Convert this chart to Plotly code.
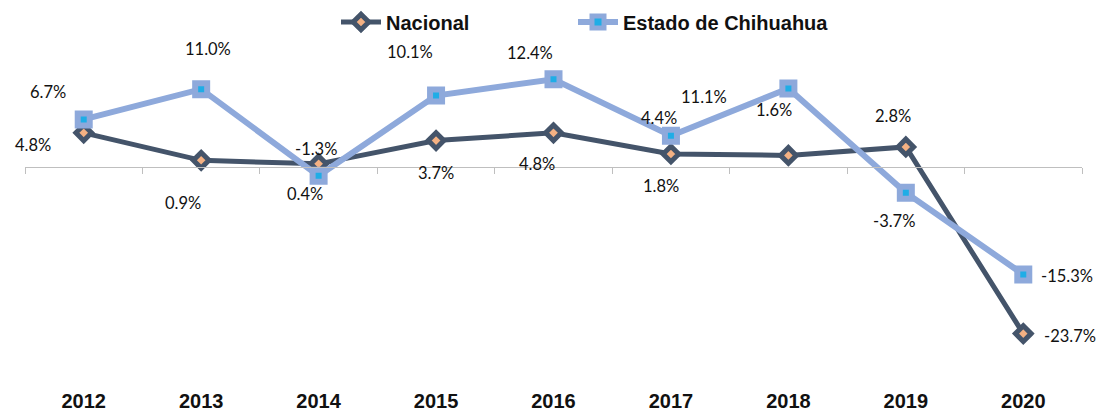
import plotly.graph_objects as go

# Annual growth rates (%)
years = ["2012", "2013", "2014", "2015", "2016", "2017", "2018", "2019", "2020"]
nacional = [4.8, 0.9, 0.4, 3.7, 4.8, 1.8, 1.6, 2.8, -23.7]
chihuahua = [6.7, 11.0, -1.3, 10.1, 12.4, 4.4, 11.1, -3.7, -15.3]

# Data-label placement (pixel offsets from each point: dx right, dy down)
nac_offsets = [(-51, 12), (-18, 43), (-14, 30), (0, 32), (-17, 31),
               (-10, 32), (-14, -45), (-13, -31), (47, 2)]
chi_offsets = [(-36, -27), (7, -40), (-3, -27), (-26, -44), (-24, -26),
               (-12, -18), (-84, 9), (-12, 28), (44, 2)]

NAC_COLOR = "#44546A"
NAC_FILL = "#F4B183"
CHI_COLOR = "#8EA9DB"
CHI_FILL = "#1FADE6"

x_idx = list(range(len(years)))
y_min, y_max = -30, 15
plot_l, plot_w = 25, 1057
plot_h = 412 - 61 - 34

fig = go.Figure()

fig.add_trace(go.Scatter(
    x=x_idx, y=nacional, name="Nacional", mode="lines+markers",
    legend="legend",
    line=dict(color=NAC_COLOR, width=5),
    marker=dict(symbol="diamond", size=12, color=NAC_FILL,
                line=dict(color=NAC_COLOR, width=5)),
))
fig.add_trace(go.Scatter(
    x=x_idx, y=chihuahua, name="Estado de Chihuahua", mode="lines+markers",
    legend="legend2",
    line=dict(color=CHI_COLOR, width=6),
    marker=dict(symbol="square", size=12, color=CHI_FILL,
                line=dict(color=CHI_COLOR, width=6)),
))

# Zero line with category-boundary ticks
fig.add_trace(go.Scatter(x=[-0.5, 8.5], y=[0, 0], xaxis="x2", mode="lines",
                         line=dict(width=0), hoverinfo="skip", showlegend=False))

annotations = []
for series, offsets in ((nacional, nac_offsets), (chihuahua, chi_offsets)):
    for i, (v, (dx, dy)) in enumerate(zip(series, offsets)):
        annotations.append(dict(
            x=i, y=v, xref="x", yref="y", text=f"{v:.1f}%", showarrow=False,
            xanchor="center", yanchor="middle", xshift=dx, yshift=-dy,
            font=dict(family="Lato", size=16.5, color="#111111"),
        ))

legend_font = dict(family="Liberation Sans", size=20, color="#111111", weight="bold")
legend_y = 1 + (61 - 22) / plot_h


def legend_at(px):
    return dict(orientation="h", x=(px - plot_l) / plot_w, xanchor="left",
                y=legend_y, yanchor="middle", font=legend_font,
                itemwidth=40, bgcolor="rgba(0,0,0,0)")


fig.update_layout(
    width=1111, height=412,
    margin=dict(l=25, r=29, t=61, b=34, autoexpand=False),
    paper_bgcolor="white", plot_bgcolor="white",
    showlegend=True,
    legend=legend_at(336),
    legend2=legend_at(573),
    xaxis=dict(range=[-0.5, 8.5], tickvals=x_idx, ticktext=years,
               showgrid=False, zeroline=False, showline=False, ticks="",
               ticklabelstandoff=9, automargin=False,
               tickfont=dict(family="Liberation Sans", size=20, color="#111111",
                             weight="bold")),
    xaxis2=dict(range=[-0.5, 8.5], overlaying="x", anchor="free",
                position=(0 - y_min) / (y_max - y_min), side="bottom",
                showline=True, linecolor="#BFBFBF", linewidth=1,
                ticks="outside", ticklen=6, tickcolor="#BFBFBF",
                tickvals=[i - 0.5 for i in range(len(years) + 1)],
                showticklabels=False, showgrid=False, zeroline=False,
                automargin=False),
    yaxis=dict(range=[y_min, y_max], visible=False),
    annotations=annotations,
)

fig.write_html("out.html")
